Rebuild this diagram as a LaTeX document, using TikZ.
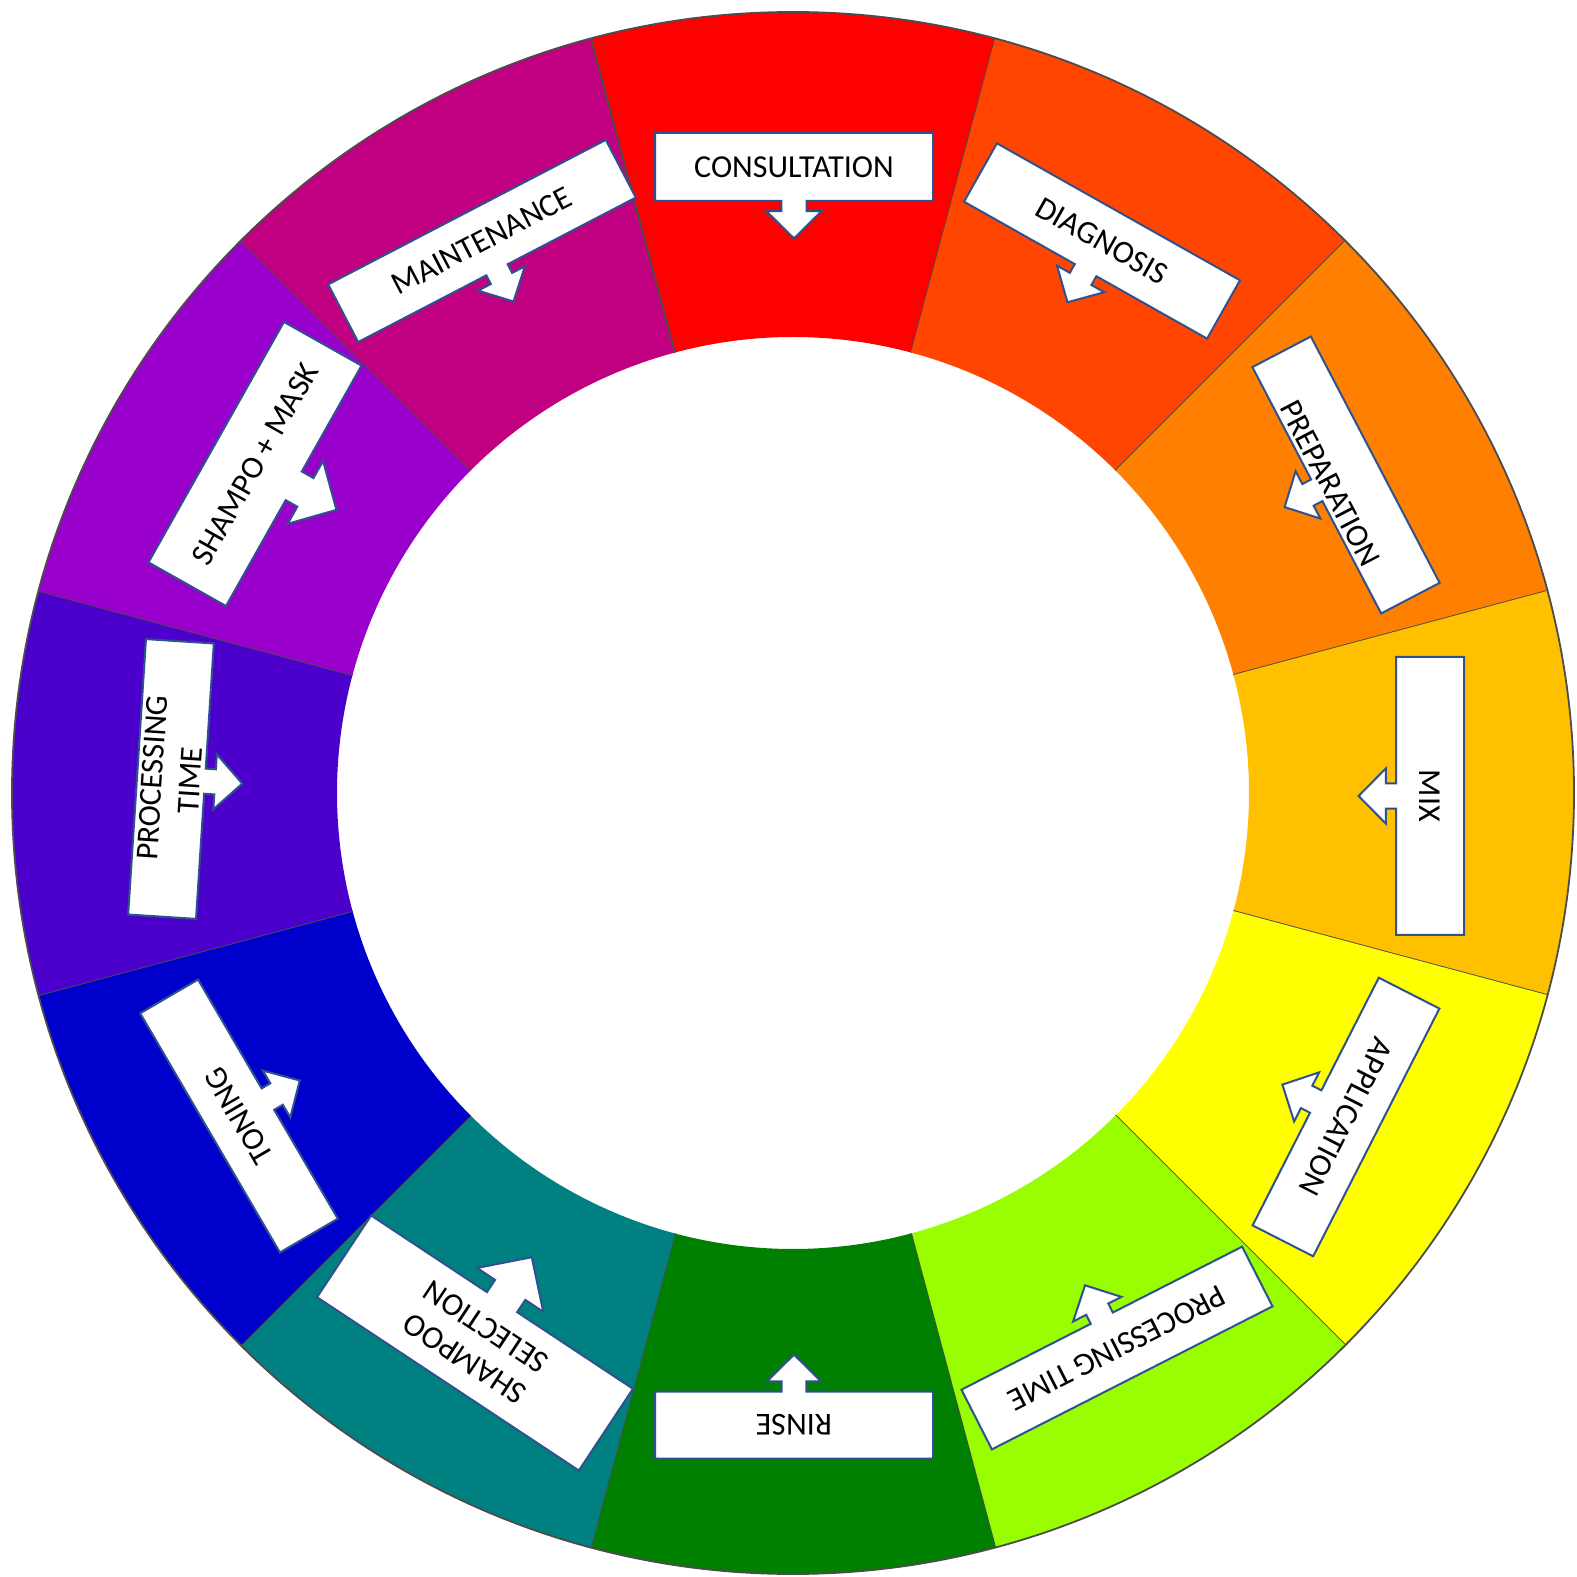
\documentclass[tikz,border=0pt]{standalone}
\usepackage{fontspec}
\setmainfont{Carlito}

% colori dei settori
\definecolor{segRed}{HTML}{FF0000}
\definecolor{segVermilion}{HTML}{FF4500}
\definecolor{segOrange}{HTML}{FF8000}
\definecolor{segAmber}{HTML}{FFC000}
\definecolor{segYellow}{HTML}{FFFF00}
\definecolor{segLime}{HTML}{99FF00}
\definecolor{segGreen}{HTML}{008000}
\definecolor{segTeal}{HTML}{008080}
\definecolor{segBlue}{HTML}{0000CC}
\definecolor{segIndigo}{HTML}{4B00CC}
\definecolor{segViolet}{HTML}{9900CC}
\definecolor{segMagenta}{HTML}{C00080}
\definecolor{boxBorder}{HTML}{2F528F}

\tikzset{
    sepline/.style={draw=black!70, line width=0.9pt},
    callbox/.style={draw=boxBorder, fill=white, line width=1pt, line join=miter},
    calltext/.style={font=\fontsize{16}{19}\selectfont, align=center, inner sep=0pt}
}

% etichetta: [scostamento testo]{nome}{x}{y}{rotazione}{lunghezza}{altezza}{testo}
\newcommand{\etichetta}[8][0]{%
    \begin{scope}[shift={(#3,#4)}, rotate=#5]
        \draw[callbox] ({-#6/2},{#7/2}) -- ({#6/2},{#7/2}) -- ({#6/2},{-#7/2})
            -- ({0.185*#7},{-#7/2}) -- ({0.185*#7},{-0.65*#7}) -- ({0.405*#7},{-0.65*#7})
            -- (0,{-1.05*#7})
            -- ({-0.405*#7},{-0.65*#7}) -- ({-0.185*#7},{-0.65*#7}) -- ({-0.185*#7},{-#7/2})
            -- ({-#6/2},{-#7/2}) -- cycle;
        \node[calltext, rotate=#5] (#2) at (0,#1) {#8};
    \end{scope}}

\begin{document}
\begin{tikzpicture}[x=0.5pt, y=0.5pt]

        \useasboundingbox (-793,-784) rectangle (783,793);

        % Corona circolare: 12 settori da 30 gradi
        \foreach \col [count=\k from 0] in {segRed, segVermilion, segOrange, segAmber,
                segYellow, segLime, segGreen, segTeal, segBlue, segIndigo, segViolet, segMagenta}{
            \fill[fill=\col] ({105-30*\k}:781)
                arc[start angle={105-30*\k}, end angle={75-30*\k}, radius=781]
                -- ({75-30*\k}:456)
                arc[start angle={75-30*\k}, end angle={105-30*\k}, radius=456] -- cycle;
            \draw[sepline] ({75-30*\k}:456) -- ({75-30*\k}:781);
        }
        \draw[sepline] (0,0) circle[radius=781];

        % Etichette con freccia verso il centro
        \etichetta{consultation}{1}{626}{0}{278}{68}{CONSULTATION}
        \etichetta{diagnosis}{309}{552}{-29.4}{279}{67}{DIAGNOSIS}
        \etichetta[-18]{preparation}{553}{318}{-62.4}{278}{66}{PREPARATION}
        \etichetta{mix}{637}{-3}{-90}{278}{68}{MIX}
        \etichetta{application}{553}{-324}{-117}{278}{68}{APPLICATION}
        \etichetta{processingright}{324}{-555}{-153}{315}{67}{PROCESSING TIME}
        \etichetta{rinse}{1}{-632}{180}{278}{67}{RINSE}
        \etichetta{shampooselection}{-318}{-550}{146.5}{314}{98}{SHAMPOO\\SELECTION}
        \etichetta{toning}{-554}{-323}{120.3}{277}{67}{TONING}
        \etichetta{processingleft}{-622}{14}{86.3}{276}{68}{PROCESSING\\TIME}
        \etichetta{shampomask}{-538}{329}{60.6}{276}{89}{SHAMPO + MASK}
        \etichetta{maintenance}{-311}{552}{27.5}{313}{65}{MAINTENANCE}

    \end{tikzpicture}
\end{document}
